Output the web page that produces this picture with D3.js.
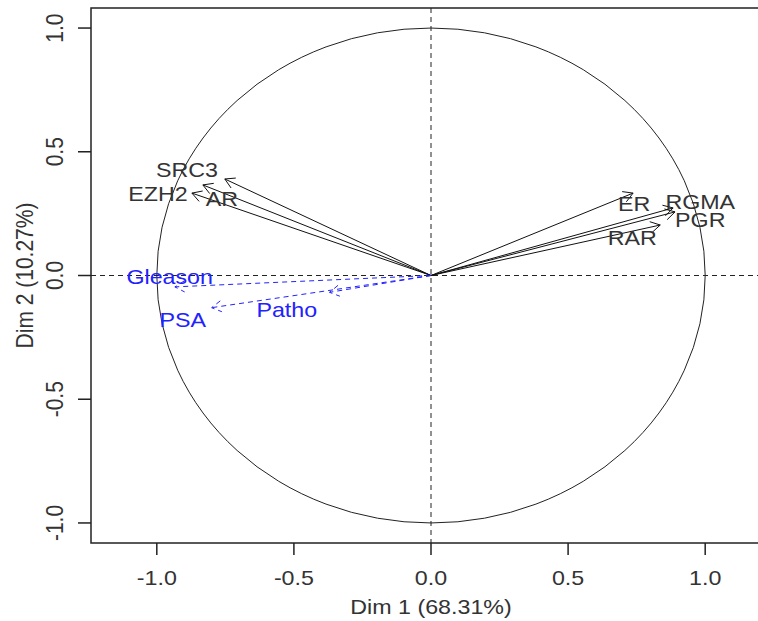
<!DOCTYPE html>
<html>
<head>
<meta charset="utf-8">
<script src="https://cdn.jsdelivr.net/npm/d3@7"></script>
<style>
  body { margin: 0; background: #fff; }
  text { font-family: "Liberation Sans", Arial, sans-serif; }
</style>
</head>
<body>
<svg id="chart"></svg>
<script>
const width = 758;
const height = 621;

// active variables (black arrows)
const activeNames = ['SRC3', 'AR', 'EZH2', 'ER', 'RGMA', 'PGR', 'RAR'];
const activeX = [-0.752, -0.832, -0.872, 0.737, 0.883, 0.89, 0.836];
const activeY = [0.39, 0.366, 0.333, 0.333, 0.273, 0.257, 0.204];
const activeLabelX = [-0.89, -0.763, -0.996, 0.741, 0.982, 0.982, 0.734];
const activeLabelY = [0.427, 0.309, 0.33, 0.289, 0.297, 0.224, 0.152];

// supplementary variables (blue dashed arrows)
const suppNames = ['Gleason', 'PSA', 'Patho'];
const suppX = [-0.934, -0.80, -0.37];
const suppY = [-0.046, -0.13, -0.068];
const suppLabelX = [-0.953, -0.905, -0.526];
const suppLabelY = [-0.006, -0.18, -0.139];

const tickValues = [-1.0, -0.5, 0.0, 0.5, 1.0];
const xTitle = 'Dim 1 (68.31%)';
const yTitle = 'Dim 2 (10.27%)';

const margin = { top: 8, right: -13, bottom: 78, left: 91 };
const stretch = 1.107; // the picture is wider than tall
const fontSize = 21;

const svg = d3.select('#chart')
    .attr('width', width)
    .attr('height', height);

const xScale = d3.scaleLinear()
    .domain([-1.24, 1.24])
    .range([margin.left, width - margin.right]);

const yScale = d3.scaleLinear()
    .domain([-1.081, 1.081])
    .range([height - margin.bottom, margin.top]);

const fmt = d => d3.format('.1f')(d).replace('\u2212', '-');

// text helper, horizontal text stretched like the picture
function label(g, x, y, rot) {
    return g.attr('transform', `translate(${x},${y}) scale(${stretch},1)` + (rot ? ' rotate(-90)' : ''))
        .attr('text-anchor', 'middle')
        .attr('dominant-baseline', 'central')
        .attr('font-size', fontSize);
}

// dashed axes through origin
svg.append('line')
    .attr('x1', xScale(-1.24)).attr('x2', xScale(1.24))
    .attr('y1', yScale(0)).attr('y2', yScale(0))
    .attr('stroke', '#222').attr('stroke-dasharray', '5,4');
svg.append('line')
    .attr('x1', xScale(0)).attr('x2', xScale(0))
    .attr('y1', yScale(1.081)).attr('y2', yScale(-1.081))
    .attr('stroke', '#222').attr('stroke-dasharray', '5,4');

// correlation circle
svg.append('ellipse')
    .attr('cx', xScale(0)).attr('cy', yScale(0))
    .attr('rx', xScale(1) - xScale(0))
    .attr('ry', yScale(0) - yScale(1))
    .attr('fill', 'none').attr('stroke', '#222').attr('stroke-width', 1);

// arrow with open V head, R style
function arrowPath(x1, y1, x2, y2, len) {
    const a = Math.atan2(y2 - y1, x2 - x1);
    const h = Math.PI / 6;
    const p1 = [x2 - len * Math.cos(a - h), y2 - len * Math.sin(a - h)];
    const p2 = [x2 - len * Math.cos(a + h), y2 - len * Math.sin(a + h)];
    return `M${x1},${y1}L${x2},${y2}M${p1[0]},${p1[1]}L${x2},${y2}L${p2[0]},${p2[1]}`;
}

const active = activeNames.map((n, i) => ({
    name: n, x: activeX[i], y: activeY[i], lx: activeLabelX[i], ly: activeLabelY[i]
}));
const supp = suppNames.map((n, i) => ({
    name: n, x: suppX[i], y: suppY[i], lx: suppLabelX[i], ly: suppLabelY[i]
}));

svg.append('g').selectAll('path')
    .data(active)
    .join('path')
    .attr('d', d => arrowPath(xScale(0), yScale(0), xScale(d.x), yScale(d.y), 11))
    .attr('fill', 'none').attr('stroke', '#111').attr('stroke-width', 1);

svg.append('g').selectAll('path')
    .data(supp)
    .join('path')
    .attr('d', d => arrowPath(xScale(0), yScale(0), xScale(d.x), yScale(d.y), 11))
    .attr('fill', 'none').attr('stroke', '#2222ff').attr('stroke-width', 1)
    .attr('stroke-dasharray', '5,4');

svg.append('g').selectAll('text')
    .data(active)
    .join('text')
    .each(function (d) { label(d3.select(this), xScale(d.lx), yScale(d.ly)); })
    .attr('fill', '#333')
    .text(d => d.name);

svg.append('g').selectAll('text')
    .data(supp)
    .join('text')
    .each(function (d) { label(d3.select(this), xScale(d.lx), yScale(d.ly)); })
    .attr('fill', '#2222ff')
    .text(d => d.name);

// box
svg.append('rect')
    .attr('x', margin.left).attr('y', margin.top)
    .attr('width', xScale.range()[1] - margin.left)
    .attr('height', yScale.range()[0] - margin.top)
    .attr('fill', 'none').attr('stroke', '#222').attr('stroke-width', 1.5);

// x axis
const xAxis = svg.append('g');
xAxis.selectAll('line')
    .data(tickValues)
    .join('line')
    .attr('x1', d => xScale(d)).attr('x2', d => xScale(d))
    .attr('y1', yScale.range()[0]).attr('y2', yScale.range()[0] + 12)
    .attr('stroke', '#222').attr('stroke-width', 1.5);
xAxis.selectAll('text')
    .data(tickValues)
    .join('text')
    .each(function (d) { label(d3.select(this), xScale(d), 578); })
    .attr('fill', '#333')
    .text(d => fmt(d));

// y axis
const yAxis = svg.append('g');
yAxis.selectAll('line')
    .data(tickValues)
    .join('line')
    .attr('x1', margin.left - 13).attr('x2', margin.left)
    .attr('y1', d => yScale(d)).attr('y2', d => yScale(d))
    .attr('stroke', '#222').attr('stroke-width', 1.5);
yAxis.selectAll('text')
    .data(tickValues)
    .join('text')
    .each(function (d) { label(d3.select(this), 55, yScale(d), true); })
    .attr('fill', '#333')
    .text(d => fmt(d));

// titles
label(svg.append('text'), xScale(0), 607)
    .attr('fill', '#333')
    .text(xTitle);

label(svg.append('text'), 25, yScale(0), true)
    .attr('fill', '#333')
    .text(yTitle);
</script>
</body>
</html>
